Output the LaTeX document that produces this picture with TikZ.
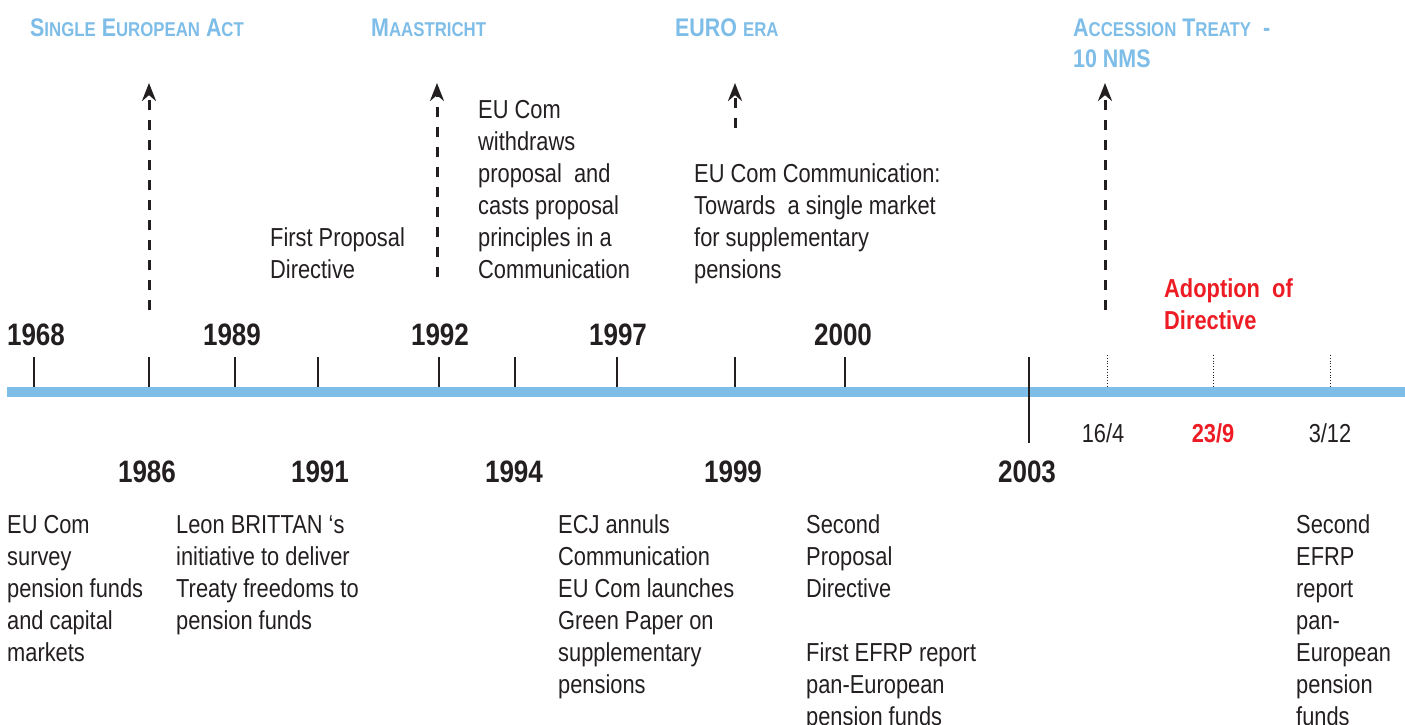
\documentclass[tikz,border=0pt]{standalone}
\usepackage{fontspec}
\setmainfont{Liberation Sans}[FakeStretch=0.84]
\usetikzlibrary{arrows.meta}

\definecolor{axisblue}{HTML}{7DBDE8}
\definecolor{hdrblue}{HTML}{7DBDE8}
\definecolor{adoptred}{HTML}{ED1C24}
\definecolor{ink}{HTML}{231F20}

\newcommand\bodyfont{\fontsize{26}{32}\selectfont}
\newcommand\yearfont{\fontsize{31}{36}\selectfont\bfseries}
\newcommand\hdrbig{\fontsize{25.5}{30}\selectfont}
\newcommand\hsc[1]{{\fontsize{20}{30}\selectfont #1}}
\newcommand\txtlines[1]{\begin{tabular}[t]{@{}l@{}}#1\end{tabular}}

\begin{document}
\begin{tikzpicture}[x=1pt,y=-1pt,
  body/.style={font=\bodyfont, text=ink, inner sep=0pt, anchor=base west},
  year/.style={font=\yearfont, text=ink, inner sep=0pt, anchor=base},
  date/.style={font=\bodyfont, text=ink, inner sep=0pt, anchor=base},
  hdr/.style={font=\hdrbig\bfseries, text=hdrblue, inner sep=0pt, anchor=base west},
  tickmark/.style={line width=2.6pt, draw=ink},
  minortick/.style={line width=0.8pt, draw=ink, dotted},
  eventarrow/.style={line width=3pt, draw=ink, dash pattern=on 10pt off 10pt,
    -{Stealth[length=18pt,width=14pt]}},
]
\useasboundingbox (0,0) rectangle (1405,724);

% ---- time axis ----
\draw[line width=10pt, draw=axisblue] (7,392) -- (1405,392);
\foreach \x in {34,149,235,318,439,515,617,735,845}
  \draw[tickmark] (\x,357) -- (\x,387);
\draw[tickmark] (1029,357) -- (1029,443);
\foreach \x in {1107,1213,1330}
  \draw[minortick] (\x,355) -- (\x,387);

% ---- years above the axis ----
\node[year] (y1968) at (36,345) {1968};
\node[year] (y1989) at (232,345) {1989};
\node[year] (y1992) at (440,345) {1992};
\node[year] (y1997) at (618,345) {1997};
\node[year] (y2000) at (843,345) {2000};

% ---- years below the axis ----
\node[year] (y1986) at (147,482) {1986};
\node[year] (y1991) at (320,482) {1991};
\node[year] (y1994) at (514,482) {1994};
\node[year] (y1999) at (733,482) {1999};
\node[year] (y2003) at (1027,482) {2003};

% ---- 2003 dates ----
\node[date] (d164) at (1103,442) {16/4};
\node[date, font=\bodyfont\bfseries, text=adoptred] (d239) at (1213,442) {23/9};
\node[date] (d312) at (1330,442) {3/12};

% ---- period headers ----
\node[hdr] (hSEA) at (30,36) {S\hsc{INGLE} E\hsc{UROPEAN} A\hsc{CT}};
\node[hdr] (hMaas) at (371,36) {M\hsc{AASTRICHT}};
\node[hdr] (hEuro) at (675,36) {EURO \hsc{ERA}};
\node[hdr] (hAcc) at (1073,36) {A\hsc{CCESSION} T\hsc{REATY}\ \ -};
\node[hdr] (hNms) at (1073,67) {10 NMS};

% ---- arrows towards the periods ----
\coordinate (seaFoot) at (149,310);  \coordinate (seaTip) at (149,83);
\coordinate (maaFoot) at (437,277);  \coordinate (maaTip) at (437,83);
\coordinate (euroFoot) at (735,128); \coordinate (euroTip) at (735,83);
\coordinate (accFoot) at (1105,310); \coordinate (accTip) at (1105,83);
\draw[eventarrow] (seaFoot) -- (seaTip);
\draw[eventarrow] (maaFoot) -- (maaTip);
\draw[eventarrow] (euroFoot) -- (euroTip);
\draw[eventarrow] (accFoot) -- (accTip);

% ---- events above the axis ----
\node[body] (firstProp) at (270,246) {\txtlines{First Proposal\\Directive}};
\node[body] (withdraw) at (478,118) {\txtlines{EU Com\\withdraws\\proposal\ \ and\\casts proposal\\principles in a\\Communication}};
\node[body] (towards) at (694,182) {\txtlines{EU Com Communication:\\Towards\ \ a single market\\for supplementary\\pensions}};
\node[body, font=\bodyfont\bfseries, text=adoptred] (adopt) at (1164,297) {\txtlines{Adoption\ \ of\\Directive}};

% ---- events below the axis ----
\node[body] (survey) at (7,533) {\txtlines{EU Com\\survey\\pension funds\\and capital\\markets}};
\node[body] (brittan) at (176,533) {\txtlines{Leon BRITTAN ‘s\\initiative to deliver\\Treaty freedoms to\\pension funds}};
\node[body] (ecj) at (558,533) {\txtlines{ECJ annuls\\Communication\\EU Com launches\\Green Paper on\\supplementary\\pensions}};
\node[body] (secondProp) at (806,533) {\txtlines{Second\\Proposal\\Directive\\[32pt]First EFRP report\\pan-European\\pension funds}};
\node[body] (efrp) at (1296,533) {\txtlines{Second\\EFRP\\report\\pan-\\European\\pension\\funds}};
\end{tikzpicture}
\end{document}
